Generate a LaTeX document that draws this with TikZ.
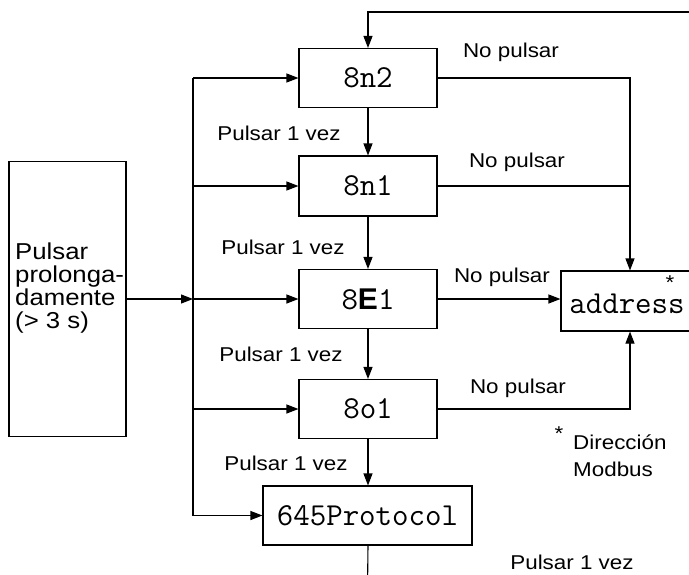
\documentclass[tikz,border=0pt]{standalone}
\usepackage{fontspec}
\usetikzlibrary{arrows.meta}
\newfontfamily\labf[FakeStretch=1.12]{Liberation Sans}
\newfontfamily\efont{Liberation Sans}
\begin{document}
\begin{tikzpicture}[x=1pt,y=-1pt,
  box/.style={draw, line width=1.1pt, minimum width=138pt, minimum height=59pt, inner sep=0pt,
    font={\fontsize{32}{36}\selectfont\ttfamily}},
  lab/.style={inner sep=0pt, font={\fontsize{20}{24}\selectfont\labf}},
  arr/.style={-{Triangle[length=12pt,width=9pt]}, line width=1.1pt},
  ln/.style={line width=1.1pt}]
\clip (0,0) rectangle (689,574);
\fill[white] (0,0) rectangle (689,574);
% boxes
\node[box] (n2) at (368,78) {8n2};
\node[box, minimum height=60pt] (n1) at (368,186) {8n1};
\node[box] (e1) at (368,299) {8{\efont\bfseries\fontsize{30}{34}\selectfont E}1};
\node[box] (o1) at (368,409) {8o1};
\node[box, minimum width=209pt] (p) at (367.5,515.5) {645Protocol};
\node[box, minimum height=60pt] (ad) at (630,301) {};
\node[inner sep=0pt, font={\fontsize{32}{36}\selectfont\ttfamily}] (adt) at (627,304) {address};
\node[lab] (ast) at (670,283) {*};
\node[draw, line width=1.1pt, minimum width=117pt, minimum height=275pt, inner sep=0pt] (lb) at (67.5,299) {};
\node[inner sep=0pt, anchor=west, align=left, font={\fontsize{23}{23}\selectfont\labf}] (lbt) at (15,288) {Pulsar\\prolonga-\\damente\\(> 3 s)};
% labels
\node[lab] (np1) at (511,52) {No pulsar};
\node[lab] (np2) at (517,162) {No pulsar};
\node[lab] (np3) at (502,277) {No pulsar};
\node[lab] (np4) at (518,388) {No pulsar};
\node[lab] (pv1) at (279,133) {Pulsar 1 vez};
\node[lab] (pv2) at (283,247) {Pulsar 1 vez};
\node[lab] (pv3) at (281,354) {Pulsar 1 vez};
\node[lab] (pv4) at (286,463) {Pulsar 1 vez};
\node[lab] (pv5) at (572,562) {Pulsar 1 vez};
\node[lab] (st) at (559,434) {*};
\node[lab, anchor=west, align=left, font={\fontsize{20}{27}\selectfont\labf}] (dm) at (573,456) {Dirección\\Modbus};
% connectors
\coordinate (tr) at (700,12);
\coordinate (vt) at (193,78);
\coordinate (vb) at (193,515.5);
\coordinate (bt) at (367.5,590);
\draw[arr] (tr) -| (n2.north);
\draw[arr] (n2.south) -- (n1.north);
\draw[arr] (n1.south) -- (e1.north);
\draw[arr] (e1.south) -- (o1.north);
\draw[arr] (o1.south) -- (o1.south |- p.north);
\draw[ln] (p.south -| o1.south) -- (bt);
\draw[arr] (n2.east) -| (ad.north);
\draw[ln] (n1.east) -- (n1.east -| ad.north);
\draw[arr] (e1.east) -- (e1.east -| ad.west);
\draw[arr] (o1.east) -| (ad.south);
\draw[ln] (vt) -- (vb);
\draw[arr] (vt) -- (n2.west);
\draw[arr] (n1.west -| vt) -- (n1.west);
\draw[arr] (e1.west -| vt) -- (e1.west);
\draw[arr] (o1.west -| vt) -- (o1.west);
\draw[arr] (vb) -- (p.west);
\draw[arr] (lb.east) -- (lb.east -| vt);
\end{tikzpicture}
\end{document}
